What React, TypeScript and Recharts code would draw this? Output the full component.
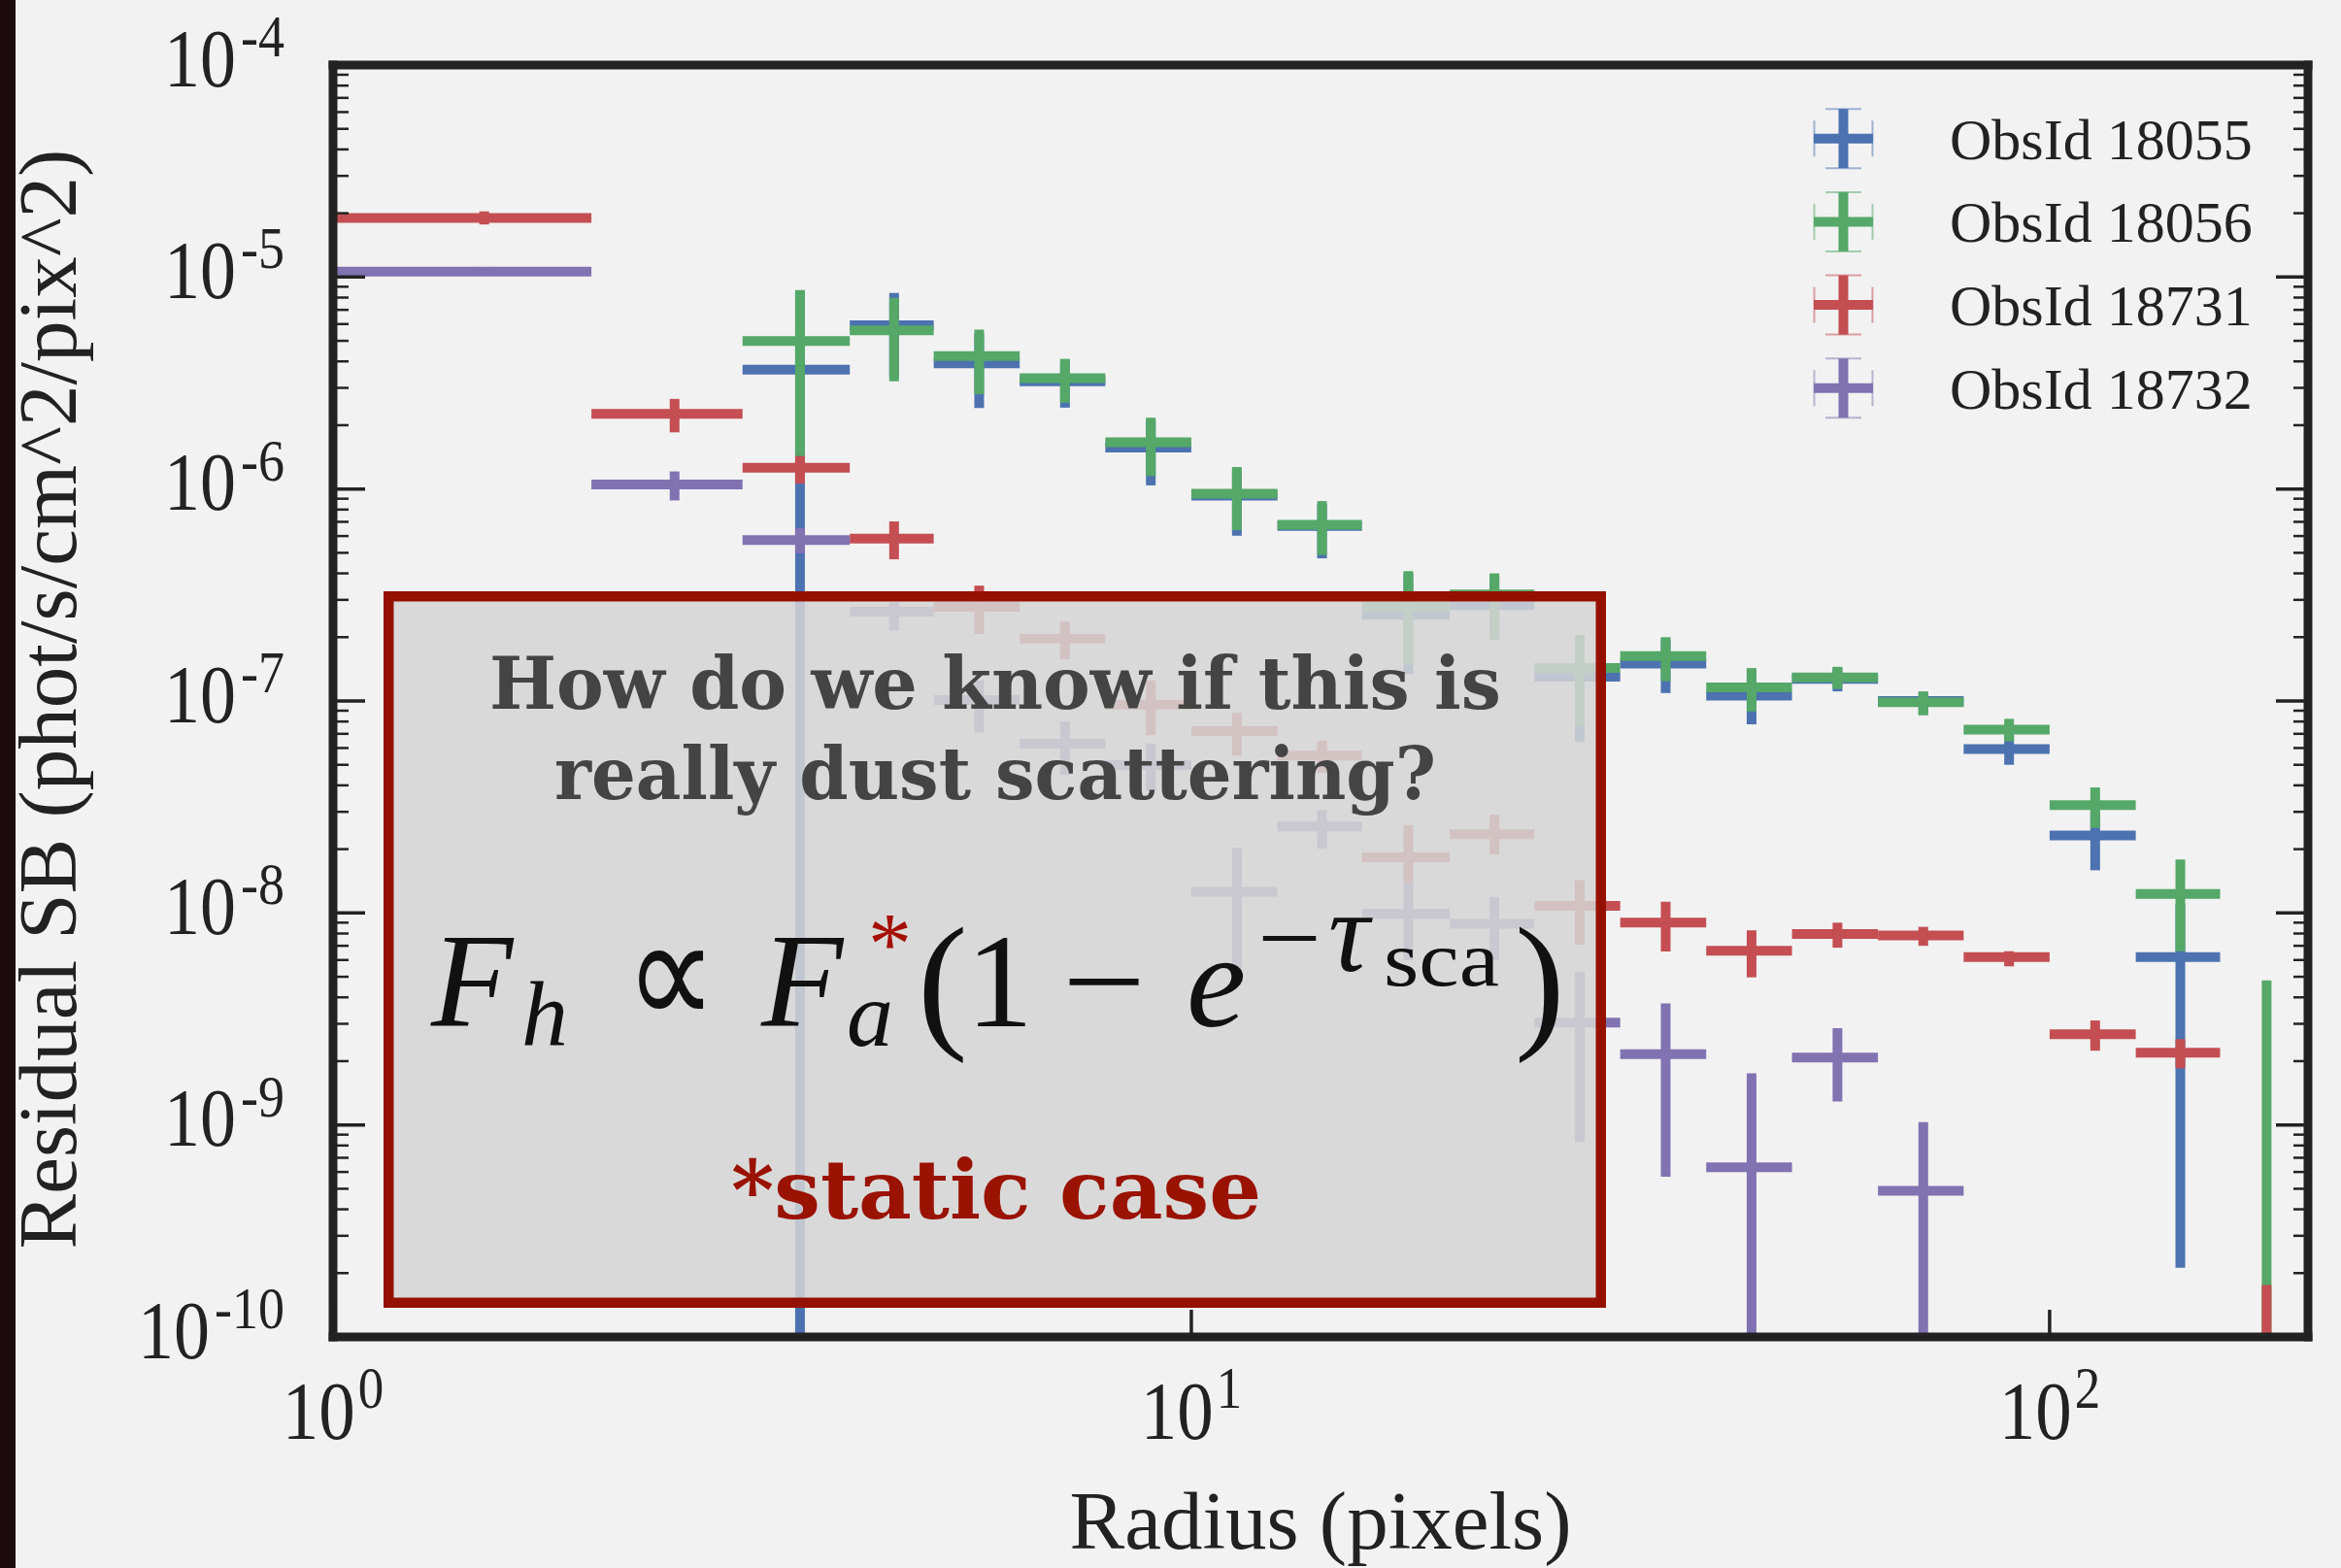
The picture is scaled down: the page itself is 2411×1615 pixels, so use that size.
import React from "react";
import { ScatterChart, Scatter, XAxis, YAxis, ErrorBar } from "recharts";

const W = 2411;
const H = 1615;

// radial bins (pixels)
const BIN_EDGES = [1, 2, 3, 4, 5.01, 6.31, 7.94, 10, 12.6, 15.8, 20, 25.1, 31.6, 39.8, 50.1, 63.1, 79.4, 100, 126, 158, 200];

// residual surface brightness per bin, with lower / upper error bounds
const SB_18055 = [null, null, 3.66e-6, 5.92e-6, 3.91e-6, 3.22e-6, 1.57e-6, 9.3e-7, 6.7e-7, 2.55e-7, 2.83e-7, 1.3e-7, 1.5e-7, 1.06e-7, 1.27e-7, 1.0e-7, 5.94e-8, 2.32e-8, 6.19e-9, null];
const LO_18055 = [null, null, 1e-11, 3.4e-6, 2.41e-6, 2.42e-6, 1.04e-6, 6.02e-7, 4.71e-7, 1.34e-7, 1.95e-7, 6.4e-8, 1.09e-7, 7.76e-8, 1.11e-7, 8.6e-8, 5.0e-8, 1.59e-8, 2.12e-10, null];
const HI_18055 = [null, null, 8.5e-6, 8.41e-6, 5.4e-6, 4.0e-6, 2.1e-6, 1.22e-6, 8.5e-7, 4.0e-7, 3.9e-7, 2.0e-7, 1.95e-7, 1.4e-7, 1.43e-7, 1.1e-7, 6.9e-8, 3.0e-8, 1.1e-8, null];

const SB_18056 = [null, null, 4.99e-6, 5.6e-6, 4.24e-6, 3.33e-6, 1.66e-6, 9.51e-7, 6.79e-7, 2.78e-7, 3.18e-7, 1.43e-7, 1.63e-7, 1.16e-7, 1.29e-7, 9.86e-8, 7.33e-8, 3.23e-8, 1.23e-8, 3e-11];
const LO_18056 = [null, null, 1.43e-6, 3.22e-6, 2.8e-6, 2.55e-6, 1.15e-6, 6.4e-7, 4.88e-7, 1.48e-7, 1.95e-7, 7.6e-8, 1.24e-7, 8.93e-8, 1.14e-7, 8.57e-8, 6.45e-8, 2.52e-8, 6.6e-9, 1e-11];
const HI_18056 = [null, null, 8.69e-6, 7.98e-6, 5.65e-6, 4.11e-6, 2.17e-6, 1.27e-6, 8.77e-7, 4.1e-7, 4.0e-7, 2.05e-7, 2.0e-7, 1.43e-7, 1.45e-7, 1.11e-7, 8.24e-8, 3.91e-8, 1.79e-8, 4.81e-9];

const SB_18731 = [1.9e-5, 2.26e-6, 1.26e-6, 5.83e-7, 2.78e-7, 1.97e-7, 9.6e-8, 7.21e-8, 5.53e-8, 1.83e-8, 2.35e-8, 1.08e-8, 9.0e-9, 6.63e-9, 7.96e-9, 7.84e-9, 6.19e-9, 2.68e-9, 2.19e-9, 5e-11];
const LO_18731 = [1.77e-5, 1.85e-6, 1.06e-6, 4.66e-7, 2.07e-7, 1.57e-7, 6.9e-8, 5.53e-8, 4.57e-8, 1.39e-8, 1.89e-8, 7.08e-9, 6.58e-9, 4.97e-9, 6.86e-9, 7.0e-9, 5.6e-9, 2.24e-9, 1.85e-9, 1e-11];
const HI_18731 = [2.04e-5, 2.66e-6, 1.43e-6, 7.03e-7, 3.5e-7, 2.37e-7, 1.25e-7, 8.8e-8, 6.49e-8, 2.6e-8, 2.91e-8, 1.43e-8, 1.13e-8, 8.28e-9, 9.0e-9, 8.6e-9, 6.6e-9, 3.11e-9, 2.54e-9, 1.76e-10];

const SB_18732 = [1.06e-5, 1.05e-6, 5.75e-7, 2.64e-7, 1.01e-7, 6.28e-8, 4.98e-8, 1.26e-8, 2.56e-8, 9.9e-9, 8.9e-9, 3.04e-9, 2.16e-9, 6.32e-10, 2.08e-9, 4.89e-10, null, null, null, null];
const LO_18732 = [1.02e-5, 8.83e-7, 4.97e-7, 2.15e-7, 7.1e-8, 4.48e-8, 3.78e-8, 5.4e-9, 2.01e-8, 6.0e-9, 6.0e-9, 8.3e-10, 5.7e-10, 1e-11, 1.29e-9, 1e-11, null, null, null, null];
const HI_18732 = [1.1e-5, 1.21e-6, 6.55e-7, 2.92e-7, 1.25e-7, 8.0e-8, 6.3e-8, 2.03e-8, 3.06e-8, 1.39e-8, 1.19e-8, 5.26e-9, 3.74e-9, 1.75e-9, 2.86e-9, 1.03e-9, null, null, null, null];

const X_MAJOR = [1, 10, 100];
const X_MINOR = [2, 3, 4, 5, 6, 7, 8, 9, 20, 30, 40, 50, 60, 70, 80, 90];
const Y_MAJOR = [1e-10, 1e-9, 1e-8, 1e-7, 1e-6, 1e-5, 1e-4];
const Y_MINOR = Y_MAJOR.slice(0, -1).flatMap((d) => [2, 3, 4, 5, 6, 7, 8, 9].map((k) => k * d));

const X_DOMAIN = [1, 200];
const Y_DOMAIN = [1e-10, 1e-4];

const SERIES = [
  { name: "ObsId 18055", color: "#4C72B0", sb: SB_18055, lo: LO_18055, hi: HI_18055 },
  { name: "ObsId 18056", color: "#55A868", sb: SB_18056, lo: LO_18056, hi: HI_18056 },
  { name: "ObsId 18731", color: "#C44E52", sb: SB_18731, lo: LO_18731, hi: HI_18731 },
  { name: "ObsId 18732", color: "#8172B2", sb: SB_18732, lo: LO_18732, hi: HI_18732 },
];

// error bars are cut at the plot frame (recharts does not clip them itself)
function toRows(sb: (number | null)[], lo: (number | null)[], hi: (number | null)[]) {
  const out: any[] = [];
  sb.forEach((v, i) => {
    if (v == null) return;
    const a = BIN_EDGES[i];
    const b = BIN_EDGES[i + 1];
    const x = (a + b) / 2;
    const low = Math.max(lo[i] as number, Y_DOMAIN[0]);
    const high = Math.min(hi[i] as number, Y_DOMAIN[1]);
    const inside = v >= Y_DOMAIN[0];
    out.push({ x, y: v, ex: inside ? [x - a, b - x] : [0, 0], ey: [v - low, high - v] });
  });
  return out;
}

const INK = "#222";
const SERIF = "'Liberation Serif', 'Times New Roman', serif";
const BOLD_SERIF = "'DejaVu Serif', Georgia, serif";

// inward tick marks, drawn by the tick renderer (x, y sit on the axis line)
type Side = "left" | "right" | "top" | "bottom";
function tickMark(side: Side, len: number, sw: number) {
  return (props: any) => {
    const { x, y } = props;
    const dx = side === "left" ? len : side === "right" ? -len : 0;
    const dy = side === "top" ? len : side === "bottom" ? -len : 0;
    return <line x1={x} y1={y} x2={x + dx} y2={y + dy} stroke={INK} strokeWidth={sw} />;
  };
}

function XTick(props: any) {
  const { x, y, payload } = props;
  const exp = Math.round(Math.log10(payload.value));
  return (
    <g>
      <line x1={x} y1={y} x2={x} y2={y - 28} stroke={INK} strokeWidth={3.5} />
      <g transform={`translate(${x},${y}) scale(1,1.14)`}>
        <text x={0} y={92} textAnchor="middle" fontFamily={SERIF} fontSize={75} fill={INK}>
          10<tspan dx={3} dy={-28} fontSize={53}>{exp}</tspan>
        </text>
      </g>
    </g>
  );
}

function YTick(props: any) {
  const { x, y, payload } = props;
  const exp = Math.round(Math.log10(payload.value));
  return (
    <g>
      <line x1={x} y1={y} x2={x + 33} y2={y} stroke={INK} strokeWidth={3.5} />
      <g transform={`translate(${x - 50},${y}) scale(1,1.14)`}>
        <text x={0} y={19} textAnchor="end" fontFamily={SERIF} fontSize={74} fill={INK}>
          10<tspan dx={5} dy={-27} fontSize={54}>{`-${-exp}`}</tspan>
        </text>
      </g>
    </g>
  );
}

const EmptyShape = () => <g />;

const xCommon = {
  type: "number" as const,
  scale: "log" as const,
  domain: X_DOMAIN,
  allowDataOverflow: true,
  interval: 0,
  height: 1,
  tickSize: 0,
  tickMargin: 0,
  tickLine: false,
};
const yCommon = {
  type: "number" as const,
  scale: "log" as const,
  domain: Y_DOMAIN,
  allowDataOverflow: true,
  interval: 0,
  width: 1,
  tickSize: 0,
  tickMargin: 0,
  tickLine: false,
};
const frame = { stroke: INK, strokeWidth: 9, strokeLinecap: "square" as const };

export default function App() {
  return (
    <div style={{ position: "absolute", left: 0, top: 0, width: W, height: H, background: "#f2f2f2", overflow: "hidden" }}>
      <ScatterChart width={W} height={H} margin={{ top: 65, right: 32, bottom: 236, left: 341 }}>
        {SERIES.map((s) => (
          <Scatter
            key={s.name}
            name={s.name}
            data={toRows(s.sb, s.lo, s.hi)}
            xAxisId="main"
            yAxisId="main"
            shape={EmptyShape}
            isAnimationActive={false}
          >
            <ErrorBar dataKey="ex" direction="x" width={0} stroke={s.color} strokeWidth={10} isAnimationActive={false} />
            <ErrorBar dataKey="ey" direction="y" width={0} stroke={s.color} strokeWidth={10} isAnimationActive={false} />
          </Scatter>
        ))}

        {/* frame axes with major ticks */}
        <XAxis {...xCommon} xAxisId="main" dataKey="x" orientation="bottom" ticks={X_MAJOR}
          tick={(p: any) => <XTick {...p} />} axisLine={frame} />
        <YAxis {...yCommon} yAxisId="main" dataKey="y" orientation="left" ticks={Y_MAJOR}
          tick={(p: any) => <YTick {...p} />} axisLine={frame} />
        <XAxis {...xCommon} xAxisId="majT" orientation="top" ticks={X_MAJOR}
          tick={tickMark("top", 26, 3.5)} axisLine={frame} />
        <YAxis {...yCommon} yAxisId="majR" orientation="right" ticks={Y_MAJOR}
          tick={tickMark("right", 33, 3.5)} axisLine={frame} />

        {/* minor ticks */}
        <XAxis {...xCommon} xAxisId="minB" orientation="bottom" ticks={X_MINOR}
          tick={tickMark("bottom", 15, 2.5)} axisLine={false} />
        <XAxis {...xCommon} xAxisId="minT" orientation="top" ticks={X_MINOR}
          tick={tickMark("top", 14, 2.5)} axisLine={false} />
        <YAxis {...yCommon} yAxisId="minL" orientation="left" ticks={Y_MINOR}
          tick={tickMark("left", 17, 2.5)} axisLine={false} />
        <YAxis {...yCommon} yAxisId="minR" orientation="right" ticks={Y_MINOR}
          tick={tickMark("right", 16, 2.5)} axisLine={false} />
      </ScatterChart>

      <svg width={W} height={H} style={{ position: "absolute", left: 0, top: 0, pointerEvents: "none" }}>
        {/* dark strip at the left edge */}
        <rect x={0} y={0} width={16} height={H} fill="#1d0b10" />

        {/* axis titles */}
        <text x={1360} y={1595} textAnchor="middle" fontFamily={SERIF} fontSize={85} fill={INK}>Radius (pixels)</text>
        <text transform="translate(78,720) rotate(-90)" textAnchor="middle" fontFamily={SERIF} fontSize={85} fill={INK}>
          Residual SB (phot/s/cm^2/pix^2)
        </text>

        {/* legend */}
        {SERIES.map((s, i) => {
          const cy = 142.7 + 85.7 * i;
          return (
            <g key={s.name}>
              <line x1={1868} x2={1929} y1={cy} y2={cy} stroke={s.color} strokeWidth={10} />
              <line x1={1898.5} x2={1898.5} y1={cy - 30.5} y2={cy + 30.5} stroke={s.color} strokeWidth={10} />
              <line x1={1868.5} x2={1868.5} y1={cy - 18.5} y2={cy + 18.5} stroke={s.color} strokeWidth={2} opacity={0.5} />
              <line x1={1928.5} x2={1928.5} y1={cy - 18.5} y2={cy + 18.5} stroke={s.color} strokeWidth={2} opacity={0.5} />
              <line x1={1880} x2={1917} y1={cy - 30.5} y2={cy - 30.5} stroke={s.color} strokeWidth={2} opacity={0.5} />
              <line x1={1880} x2={1917} y1={cy + 30.5} y2={cy + 30.5} stroke={s.color} strokeWidth={2} opacity={0.5} />
              <text x={2008} y={cy + 21} fontFamily={SERIF} fontSize={60} fill={INK}>{s.name}</text>
            </g>
          );
        })}

        {/* annotation box */}
        <rect x={400.25} y={614.25} width={1248.5} height={727.5} fill="rgb(213,213,213)" fillOpacity={0.86}
          stroke="#941100" strokeWidth={10.5} />
        <text x={504} y={730} textLength={1042} lengthAdjust="spacingAndGlyphs" fontFamily={BOLD_SERIF}
          fontWeight="bold" fontSize={75} fill="#444">How do we know if this is</text>
        <text x={571} y={823} textLength={908} lengthAdjust="spacingAndGlyphs" fontFamily={BOLD_SERIF}
          fontWeight="bold" fontSize={75} fill="#444">really dust scattering?</text>

        {/* F_h ∝ F_a*(1 − e^(−τ_sca)) as one text run */}
        <text fontFamily={SERIF} fill="#111">
          <tspan x={444} y={1057} fontSize={138} fontStyle="italic">F</tspan>
          <tspan x={537} y={1077} fontSize={96} fontStyle="italic">h</tspan>
          <tspan x={644} y={1057} fontSize={160} textLength={94} lengthAdjust="spacingAndGlyphs">∝</tspan>
          <tspan x={784} y={1057} fontSize={138} fontStyle="italic">F</tspan>
          <tspan x={872} y={1077} fontSize={96} fontStyle="italic">a</tspan>
          <tspan x={894} y={1003} fontSize={90} fill="#a51000">*</tspan>
          <tspan x={945} y={1062} fontSize={155}>(</tspan>
          <tspan x={995} y={1057} fontSize={138}>1</tspan>
          <tspan x={1094} y={1057} fontSize={138} textLength={86} lengthAdjust="spacingAndGlyphs">−</tspan>
          <tspan x={1222} y={1057} fontSize={138} fontStyle="italic">e</tspan>
          <tspan x={1295} y={1000} fontSize={100} textLength={66} lengthAdjust="spacingAndGlyphs">−</tspan>
          <tspan x={1368} y={1000} fontSize={118} fontStyle="italic">τ</tspan>
          <tspan x={1425} y={1015} fontSize={80} textLength={119} lengthAdjust="spacingAndGlyphs">sca</tspan>
          <tspan x={1560} y={1062} fontSize={155}>)</tspan>
        </text>
        <text x={753} y={1255} textLength={546} lengthAdjust="spacingAndGlyphs" fontFamily={BOLD_SERIF}
          fontWeight="bold" fontSize={84} fill="#9a1200">*static case</text>
      </svg>
    </div>
  );
}
